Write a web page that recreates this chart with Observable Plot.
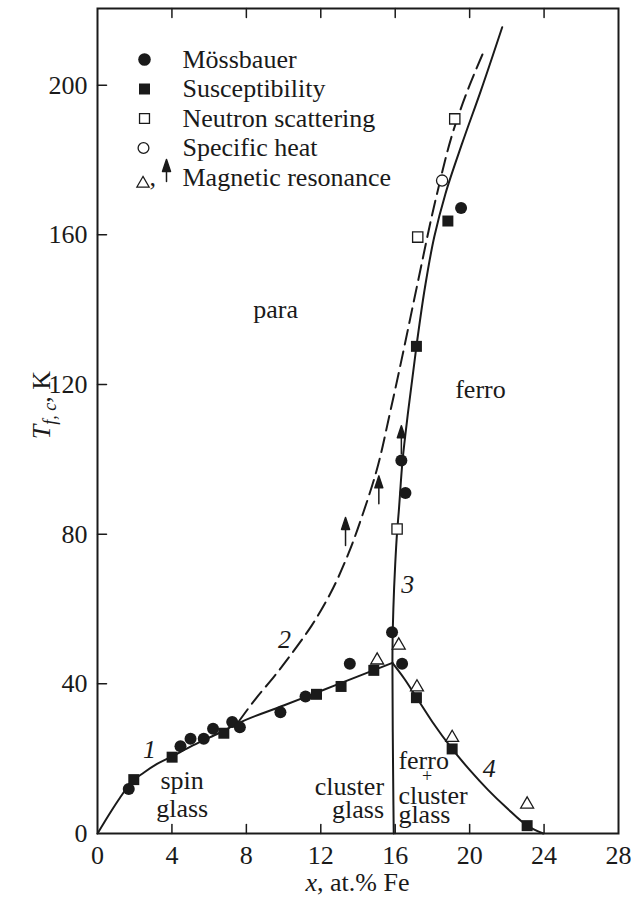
<!DOCTYPE html>
<html><head><meta charset="utf-8">
<script src="https://cdn.jsdelivr.net/npm/d3@7"></script>
<script src="https://cdn.jsdelivr.net/npm/@observablehq/plot@0.6"></script>
<style>
html,body{margin:0;padding:0;background:#fff;}
#chart{width:640px;height:905px;}
</style></head><body><div id="chart"></div>
<script>
// ---- ticks ----
const xTicks = [0, 4, 8, 12, 16, 20, 24, 28];
const yTicks = [0, 40, 80, 120, 160, 200];
const xInner = [4, 8, 12, 16, 20, 24];
const yInner = [40, 80, 120, 160, 200];

// ---- boundary curves ----
const curve1X = [0, 0.7, 1.2, 1.77, 2.5, 3.2, 4.0, 5.0, 6.0, 7.0, 7.5, 10.0, 12.0, 14.0, 15.85];
const curve1T = [0, 5.7, 9.5, 13.4, 16.3, 18.6, 20.6, 23.2, 25.6, 28.0, 29.3, 34.2, 38.1, 42.0, 45.6];

const curve2X = [7.6, 8.5, 9.5, 10.5, 11.5, 12.5, 13.5, 14.3, 15.0, 15.7, 16.4, 17.2, 18.2, 19.2, 20.0, 20.8];
const curve2T = [30.0, 36, 42, 48.5, 55.5, 64, 75, 86, 97, 112, 128, 147, 170, 189, 200, 209.5];

const curve3X = [15.92, 15.88, 15.85, 15.9, 16.0, 16.1, 16.19, 16.4, 16.7, 17.14, 17.6, 18.1, 18.7, 19.6, 20.6, 21.75];
const curve3T = [0, 20, 45.6, 60, 72, 80.5, 86, 100, 113, 130.2, 146, 159.5, 171, 184.5, 198.5, 215.5];

const curve4X = [15.85, 16.5, 17.14, 18.0, 19.06, 20.0, 21.0, 22.0, 23.09, 23.95];
const curve4T = [45.6, 41.3, 36.4, 29.8, 22.6, 17.0, 11.6, 6.8, 2.1, 0];

// ---- measurements ----
const mossX = [1.68, 4.46, 5.0, 5.71, 6.21, 7.24, 7.65, 9.83, 11.18, 13.56, 15.83, 16.37, 16.33, 16.55, 19.54];
const mossT = [11.9, 23.3, 25.3, 25.3, 28.0, 29.8, 28.4, 32.4, 36.6, 45.4, 53.8, 45.4, 99.7, 91.0, 167.2];

const suscX = [1.95, 4.01, 6.79, 11.77, 13.09, 14.85, 17.14, 19.06, 23.09, 17.14, 18.83];
const suscT = [14.4, 20.4, 26.8, 37.2, 39.3, 43.6, 36.3, 22.6, 2.1, 130.2, 163.7];

const neutX = [16.1, 17.21, 19.2];
const neutT = [81.4, 159.4, 191.0];

const heatX = [18.52];
const heatT = [174.5];

const resX = [15.03, 16.19, 17.17, 19.06, 23.09];
const resT = [46.3, 50.3, 39.1, 25.6, 7.8];

const arrowX = [13.33, 15.12, 16.33];
const arrowT = [77.0, 88.1, 101.5];

// ---- labels ----
const centerText = ["para", "ferro", "spin", "glass"];
const centerX = [9.57, 20.58, 4.55, 4.55];
const centerT = [139.9, 118.5, 14.25, 6.75];

const plusText = ["+"];
const plusX = [17.71];
const plusT = [15.3];

const endText = ["cluster", "glass"];
const endX = [15.4, 15.4];
const endT = [12.4, 6.5];

const startText = ["ferro", "cluster", "glass"];
const startX = [16.17, 16.17, 16.17];
const startT = [19.4, 10.2, 5.1];

const curveNum = ["1", "2", "3", "4"];
const curveNumX = [2.8, 10.05, 16.68, 21.06];
const curveNumT = [22.5, 51.9, 66.4, 17.2];

const legendLabels = ["Mössbauer", "Susceptibility", "Neutron scattering", "Specific heat", "Magnetic resonance"];

// ---- drawing ----
const FONT = "Liberation Serif, Times New Roman, serif";
const INK = "#1a1a1a";
const FS = 26;

const tickShape = {draw(c, l) { c.moveTo(0, 0); c.lineTo(0, -l); }};
const arrowShape = {draw(c, l) {
  c.moveTo(0, 0); c.lineTo(0, -l + 10);
  c.moveTo(0, -l); c.lineTo(-4, -l + 12); c.lineTo(4, -l + 12); c.closePath();
}};

const pts = (X, Y) => X.map((x, i) => ({x, y: Y[i]}));
const lbl = (T, X, Y) => T.map((t, i) => ({t, x: X[i], y: Y[i]}));

const rowDy = i => 51 + 29.5 * i;
const LX = 47;
const txt = {fontSize: FS, fontFamily: FONT, fill: INK, lineAnchor: "middle"};

const legendMarks = [
  Plot.dot([0], {frameAnchor: "top-left", dx: LX, dy: rowDy(0), r: 6.3, fill: INK}),
  Plot.dot([0], {frameAnchor: "top-left", dx: LX, dy: rowDy(1), r: 6.2, symbol: "square", fill: INK}),
  Plot.dot([0], {frameAnchor: "top-left", dx: LX, dy: rowDy(2), r: 5.6, symbol: "square", fill: "white", stroke: INK, strokeWidth: 1.3}),
  Plot.dot([0], {frameAnchor: "top-left", dx: LX - 1, dy: rowDy(3), r: 5.4, fill: "white", stroke: INK, strokeWidth: 1.3}),
  Plot.dot([0], {frameAnchor: "top-left", dx: LX - 1.5, dy: rowDy(4) + 6, r: 4.6, symbol: "triangle", fill: "white", stroke: INK, strokeWidth: 1.2}),
  Plot.text([","], {...txt, frameAnchor: "top-left", dx: LX + 5, dy: rowDy(4), text: d => d, textAnchor: "start"}),
  Plot.vector([0], {frameAnchor: "top-left", dx: LX + 22, dy: rowDy(4) + 4, length: 22, rotate: 0, anchor: "start", shape: arrowShape, fill: INK, stroke: INK, strokeWidth: 1.5}),
  ...legendLabels.map((l, i) => Plot.text([l], {...txt, frameAnchor: "top-left", dx: 85, dy: rowDy(i), text: d => d, textAnchor: "start"}))
];

const plot = Plot.plot({
  width: 640, height: 905,
  marginLeft: 97, marginRight: 22, marginTop: 8, marginBottom: 72,
  x: {domain: [0, 28], label: null},
  y: {domain: [0, 220.5], label: null},
  style: {fontFamily: FONT, color: INK, background: "white"},
  marks: [
    Plot.axisX({ticks: xTicks, tickSize: 0, tickPadding: 12, fontSize: FS, fontFamily: FONT, fill: INK, label: null, tickFormat: d => d}),
    Plot.axisY({ticks: yTicks, tickSize: 0, tickPadding: 10, fontSize: FS, fontFamily: FONT, fill: INK, label: null, tickFormat: d => d}),
    Plot.vector(xInner, {x: d => d, frameAnchor: "bottom", length: 9, rotate: 0, anchor: "start", shape: tickShape, strokeWidth: 1.5, stroke: INK}),
    Plot.vector(xInner, {x: d => d, frameAnchor: "top", length: 9, rotate: 180, anchor: "start", shape: tickShape, strokeWidth: 1.5, stroke: INK}),
    Plot.vector(yInner, {y: d => d, frameAnchor: "left", length: 9, rotate: 90, anchor: "start", shape: tickShape, strokeWidth: 1.5, stroke: INK}),
    Plot.line(pts(curve1X, curve1T), {x: "x", y: "y", curve: "monotone-x", stroke: INK, strokeWidth: 2}),
    Plot.line(pts(curve2X, curve2T), {x: "x", y: "y", curve: "monotone-y", stroke: INK, strokeWidth: 2, strokeDasharray: "15,7"}),
    Plot.line(pts(curve3X, curve3T), {x: "x", y: "y", curve: "monotone-y", stroke: INK, strokeWidth: 2}),
    Plot.line(pts(curve4X, curve4T), {x: "x", y: "y", curve: "monotone-x", stroke: INK, strokeWidth: 2}),
    Plot.vector(pts(arrowX, arrowT), {x: "x", y: "y", length: 28, rotate: 0, anchor: "start", shape: arrowShape, fill: INK, stroke: INK, strokeWidth: 1.5}),
    Plot.dot(pts(mossX, mossT), {x: "x", y: "y", r: 6, fill: INK}),
    Plot.dot(pts(suscX, suscT), {x: "x", y: "y", r: 6.2, symbol: "square", fill: INK}),
    Plot.dot(pts(neutX, neutT), {x: "x", y: "y", r: 5.8, symbol: "square", fill: "white", stroke: INK, strokeWidth: 1.3}),
    Plot.dot(pts(heatX, heatT), {x: "x", y: "y", r: 5.6, fill: "white", stroke: INK, strokeWidth: 1.3}),
    Plot.dot(pts(resX, resT), {x: "x", y: "y", r: 4.8, symbol: "triangle", fill: "white", stroke: INK, strokeWidth: 1.3}),
    Plot.text(lbl(centerText, centerX, centerT), {...txt, x: "x", y: "y", text: "t", textAnchor: "middle"}),
    Plot.text(lbl(plusText, plusX, plusT), {...txt, x: "x", y: "y", text: "t", textAnchor: "middle", fontSize: 18}),
    Plot.text(lbl(endText, endX, endT), {...txt, x: "x", y: "y", text: "t", textAnchor: "end"}),
    Plot.text(lbl(startText, startX, startT), {...txt, x: "x", y: "y", text: "t", textAnchor: "start"}),
    Plot.text(lbl(curveNum, curveNumX, curveNumT), {...txt, x: "x", y: "y", text: "t", textAnchor: "middle", fontStyle: "italic"}),
    ...legendMarks,
    Plot.frame({stroke: INK, strokeWidth: 2})
  ]
});

const svg = d3.select(plot);
// x-axis title
const xt = svg.append("text").attr("x", 357.5).attr("y", 891).attr("text-anchor", "middle")
  .attr("font-family", FONT).attr("font-size", FS).attr("fill", INK);
xt.append("tspan").attr("font-style", "italic").text("x");
xt.append("tspan").text(", at.% Fe");
// y-axis title
const yg = svg.append("g").attr("transform", "translate(50,405) rotate(-90)");
const yt = yg.append("text").attr("text-anchor", "middle").attr("font-family", FONT).attr("font-size", FS).attr("fill", INK);
yt.append("tspan").attr("font-style", "italic").text("T");
yt.append("tspan").attr("font-style", "italic").attr("font-size", 18).attr("dy", 6).text("f, c");
yt.append("tspan").attr("dy", -6).text(", K");

document.getElementById("chart").appendChild(plot);
</script></body></html>
